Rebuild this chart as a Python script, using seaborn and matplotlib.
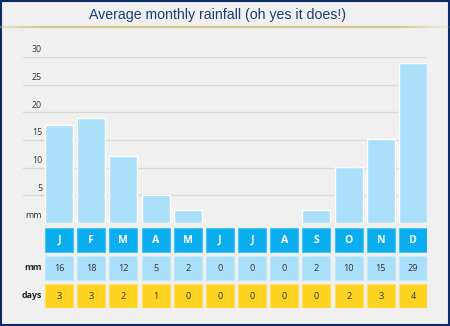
import matplotlib
matplotlib.use("Agg")
import matplotlib.pyplot as plt
import matplotlib.transforms as mtransforms
from matplotlib.patches import Rectangle
from matplotlib.collections import LineCollection
import seaborn as sns
import pandas as pd

# ---- data ----
month_keys = ["Jan", "Feb", "Mar", "Apr", "May", "Jun",
              "Jul", "Aug", "Sep", "Oct", "Nov", "Dec"]
month_letters = ["J", "F", "M", "A", "M", "J", "J", "A", "S", "O", "N", "D"]
bar_mm = [17.7, 18.9, 12.1, 5.0, 2.3, 0, 0, 0, 2.3, 10.1, 15.1, 28.9]
label_mm = ["16", "18", "12", "5", "2", "0", "0", "0", "2", "10", "15", "29"]
label_days = ["3", "3", "2", "1", "0", "0", "0", "0", "0", "2", "3", "4"]
y_ticks = [0, 5, 10, 15, 20, 25, 30]
y_tick_labels = ["mm", "5", "10", "15", "20", "25", "30"]
title = "Average monthly rainfall (oh yes it does!)"

sns.set_theme(style="white")
plt.rcParams["font.family"] = ["Open Sans", "DejaVu Sans"]

W, H = 450, 326
BG = "#f0f0f0"
fig = plt.figure(figsize=(W / 100, H / 100), dpi=100, facecolor=BG)

def fx(px):
    return px / W

def fy(py):
    return 1 - py / H

XLIM = (-1.119, 11.435)
BW = 0.87

# ---- bar chart ----
ax = fig.add_axes([fx(23), fy(223), fx(427) - fx(23), fy(57) - fy(223)])
ax.set_facecolor("none")
df = pd.DataFrame({"month": month_keys, "mm": bar_mm})
for t in y_ticks:
    ax.axhline(t, color="#d9d9d9", lw=1.0, zorder=0)
sns.barplot(data=df, x="month", y="mm", order=month_keys, color="#aadff9",
            saturation=1, width=BW, ax=ax, zorder=2)
ax.set_xlim(*XLIM)
ax.set_ylim(0, 30)
ax.set_xlabel("")
ax.set_ylabel("")
ax.set_xticks([])
ax.set_yticks([])
for s in ax.spines.values():
    s.set_visible(False)
off = mtransforms.offset_copy(ax.transData, fig=fig, y=5.2, units="points")
lab_x = XLIM[0] + (42 - 23) / 32.18
for t, lab in zip(y_ticks, y_tick_labels):
    ax.text(lab_x, t, lab, transform=off, ha="right", va="center",
            fontsize=6.4, color="#333333", clip_on=False)

# ---- table ----
tab = fig.add_axes([fx(23), fy(308), fx(427) - fx(23), fy(228) - fy(308)])
tab.set_facecolor("none")
tab.set_xlim(*XLIM)
tab.set_ylim(308, 228)
tab.axis("off")
xs = list(range(len(month_keys)))
rows = [
    (228, "#0aaeee", "#4cc4f2", month_letters, "white", "bold", 7.6),
    (256, "#aadff9", "#c4e9fb", label_mm, "#333333", "normal", 6.6),
    (284, "#ffd322", "#ffe066", label_days, "#333333", "normal", 6.6),
]
for top, col, ecol, labels, tcol, weight, fs in rows:
    tab.bar(xs, [24] * len(xs), bottom=top, width=BW, color=col,
            edgecolor=ecol, linewidth=0.8)
    for x, lab in zip(xs, labels):
        tab.text(x, top + 12.5, lab, ha="center", va="center",
                 color=tcol, fontsize=fs, fontweight=weight)
tab.text(lab_x, 268, "mm", ha="right", va="center", fontsize=6.4,
         fontweight="bold", color="#222222", clip_on=False)
tab.text(lab_x, 296, "days", ha="right", va="center", fontsize=6.4,
         fontweight="bold", color="#222222", clip_on=False)

# ---- title and decorations ----
fig.text(fx(217.5), fy(15), title, ha="center", va="center", fontsize=10.2,
         color="#1b3c73", family=["Liberation Sans", "DejaVu Sans"])

n = 90
segs, cols = [], []
for i in range(n):
    x0 = i / n
    x1 = (i + 1) / n
    xm = (x0 + x1) / 2 * W
    if xm < 40:
        a = 0.35 + 0.65 * xm / 40
    elif xm > 400:
        a = max(0.15, 1 - (xm - 400) / 55)
    else:
        a = 1.0
    segs.append([(x0, fy(26.7)), (x1, fy(26.7))])
    cols.append((0.85, 0.78, 0.55, a))
fig.add_artist(LineCollection(segs, colors=cols, linewidths=1.6,
                              transform=fig.transFigure))
fig.add_artist(Rectangle((0.5 / W, 1 / H), 1 - 2 / W, 1 - 2 / H,
                         transform=fig.transFigure, fill=False,
                         edgecolor="#0c2a68", lw=1.5))

fig.savefig("out.png", dpi=100, facecolor=BG)
